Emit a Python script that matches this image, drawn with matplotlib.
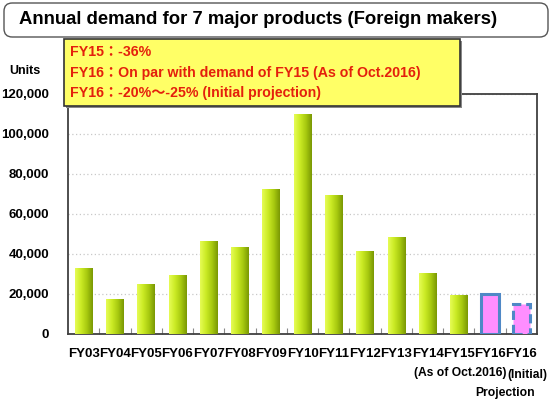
#!/usr/bin/env python3
# -*- coding: utf-8 -*-
"""
Annual demand for 7 major products (Foreign makers) - bar chart
"""

import numpy as np
import matplotlib
matplotlib.use('Agg')
import matplotlib.pyplot as plt
from matplotlib.patches import FancyBboxPatch
from matplotlib.colors import LinearSegmentedColormap
from matplotlib.ticker import FuncFormatter, FixedLocator

plt.rcParams['font.family'] = ['Liberation Sans', 'Noto Sans CJK JP']
plt.rcParams['font.weight'] = 'bold'

# data
years = ['FY03', 'FY04', 'FY05', 'FY06', 'FY07', 'FY08', 'FY09', 'FY10',
         'FY11', 'FY12', 'FY13', 'FY14', 'FY15', 'FY16', 'FY16']
demand = [33000, 17500, 25000, 29500, 46500, 43500, 72500, 110000,
          69500, 41500, 48500, 30500, 19700]
proj_oct = 19800      # FY16 (As of Oct.2016)
proj_initial = 14800  # FY16 (Initial) projection
y_ticks = [0, 20000, 40000, 60000, 80000, 100000, 120000]

title = 'Annual demand for 7 major products (Foreign makers)'
notes = ['FY15：-36%',
         'FY16：On par with demand of FY15 (As of Oct.2016)',
         'FY16：-20%～-25% (Initial projection)']

W, H = 552, 404
fig = plt.figure(figsize=(W / 100, H / 100), dpi=100)


def fx(px):
    return px / W


def fy(py):
    return 1 - py / H


# 1. plot area
ax = fig.add_axes([fx(68), fy(334), fx(537) - fx(68), fy(94) - fy(334)])
x = np.arange(len(years))

bars = ax.bar(x[:len(demand)], demand, width=0.56, color='none',
              edgecolor='none', zorder=3)
green = LinearSegmentedColormap.from_list(
    'green', ['#E6FC55', '#CBEB25', '#A8CA10', '#7A9804'])
grad = np.linspace(0, 1, 64).reshape(1, -1)
for b in bars:
    im = ax.imshow(grad, cmap=green, aspect='auto', interpolation='bilinear',
                   extent=[b.get_x(), b.get_x() + b.get_width(), 0, b.get_height()],
                   zorder=3)
    im.set_clip_path(b)

# projections (pink)
ax.bar(x[13], proj_oct, width=0.56, color='#FF8EFF', edgecolor='#4F88C6',
       linewidth=2.2, zorder=3)
ax.bar(x[14], proj_initial, width=0.56, color='#FF8EFF', edgecolor='#4F88C6',
       linewidth=2.2, linestyle=(0, (3, 1.6)), zorder=3)

ax.set_xlim(-0.5, len(years) - 0.5)
ax.set_ylim(0, 120000)
ax.set_xticks(x)
ax.set_xticklabels(years, fontsize=9.5)
ax.set_yticks(y_ticks)
ax.yaxis.set_major_formatter(FuncFormatter(lambda v, p: f'{int(v):,}'))
ax.tick_params(axis='y', length=0, pad=13.5, labelsize=9.5)
ax.tick_params(axis='x', which='major', length=0, pad=10)
ax.xaxis.set_minor_locator(FixedLocator(x[:-1] + 0.5))
ax.tick_params(axis='x', which='minor', direction='in', length=4,
               color='#888888', width=0.8)

ax.set_axisbelow(True)
ax.yaxis.grid(True, linestyle=(0, (1, 2)), color='#C8C8C8', linewidth=0.9)
for s in ax.spines.values():
    s.set_color('#404040')
    s.set_linewidth(1.3)

# 2. title box
fig.add_artist(FancyBboxPatch((fx(4), fy(37)), fx(548) - fx(4), fy(3) - fy(37),
                              boxstyle='round,pad=0,rounding_size=0.015',
                              mutation_aspect=W / H,
                              transform=fig.transFigure, facecolor='white',
                              edgecolor='#555555', linewidth=1.0, zorder=4))
fig.text(fx(258), fy(20), title, ha='center', va='center', fontsize=13.3,
         color='black', zorder=5)

# 3. yellow note box
fig.add_artist(FancyBboxPatch((fx(66), fy(108)), fx(462) - fx(66), fy(41) - fy(108),
                              boxstyle='square,pad=0', transform=fig.transFigure,
                              facecolor='#888888', edgecolor='none', zorder=5))
fig.add_artist(FancyBboxPatch((fx(64), fy(106)), fx(460) - fx(64), fy(39) - fy(106),
                              boxstyle='square,pad=0', transform=fig.transFigure,
                              facecolor='#FFFF66', edgecolor='#333333',
                              linewidth=1.2, zorder=6))
for i, line in enumerate(notes):
    fig.text(fx(70), fy(52 + 20.5 * i), line, ha='left', va='center',
             fontsize=10.2, color='#E4200C', zorder=7)

# 4. other labels
fig.text(fx(25), fy(71), 'Units', ha='center', va='center', fontsize=9)
fig.text(fx(460), fy(373), '(As of Oct.2016)', ha='center', va='center', fontsize=8.7)
fig.text(fx(527), fy(375), '(Initial)', ha='center', va='center', fontsize=8.7)
fig.text(fx(505), fy(393), 'Projection', ha='center', va='center', fontsize=8.7)

fig.savefig('out.png', dpi=100)
